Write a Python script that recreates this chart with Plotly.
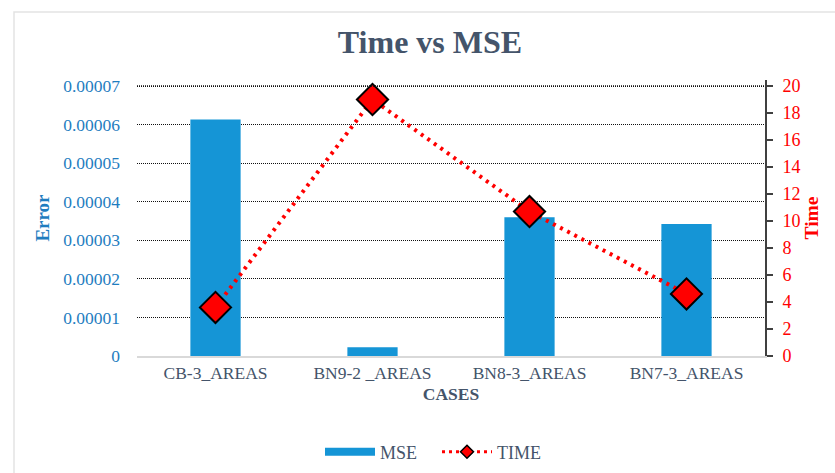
import plotly.graph_objects as go

categories = ["CB-3_AREAS", "BN9-2 _AREAS", "BN8-3_AREAS", "BN7-3_AREAS"]
mse_values = [0.0000613, 0.0000023, 0.0000360, 0.0000342]
time_values = [3.6, 19.0, 10.7, 4.6]
left_ticks = [0, 0.00001, 0.00002, 0.00003, 0.00004, 0.00005, 0.00006, 0.00007]
left_tick_labels = ["0", "0.00001", "0.00002", "0.00003", "0.00004", "0.00005", "0.00006", "0.00007"]
right_ticks = list(range(0, 21, 2))

FONT = "Liberation Serif"
SLATE = "#44546A"
BLUE = "#1F7DBF"
RED = "#FF0000"
BARC = "#1595D6"
GRID = "#111111"

fig = go.Figure()
fig.add_trace(go.Bar(
    x=categories, y=mse_values, name="MSE", showlegend=False,
    marker=dict(color=BARC, line=dict(width=0)),
    width=0.32, yaxis="y",
))
fig.add_trace(go.Scatter(
    x=categories, y=time_values, name="TIME", yaxis="y2", showlegend=False,
    mode="lines+markers",
    line=dict(color=RED, width=4, dash="3px,5px"),
    marker=dict(symbol="diamond", size=24, color=RED, line=dict(color="black", width=2)),
))
# legend-only entries
fig.add_trace(go.Scatter(
    x=[None], y=[None], name="MSE", mode="lines",
    line=dict(color=BARC, width=8), yaxis="y",
))
fig.add_trace(go.Scatter(
    x=[None], y=[None], name="TIME", mode="lines+markers", yaxis="y2",
    line=dict(color=RED, width=3, dash="3px,4px"),
    marker=dict(symbol="diamond", size=10, color=RED, line=dict(color="black", width=1.5)),
))

W, H = 835, 473
L, R, T, B = 137, 70, 80, 117
pw, ph = W - L - R, H - T - B
top_frac = ph / (356 - 86)  # plot top slightly above the top tick

fig.update_layout(
    width=W, height=H,
    margin=dict(l=L, r=R, t=T, b=B, autoexpand=False),
    paper_bgcolor="white", plot_bgcolor="white",
    font=dict(family=FONT, color=SLATE, size=17),
    title=dict(text="<b>Time vs MSE</b>", x=430 / W, xanchor="center",
               y=1 - 42 / H, yanchor="middle",
               font=dict(size=32, color=SLATE, family=FONT)),
    showlegend=True,
    legend=dict(orientation="h", x=(320 - L) / pw, xanchor="left", y=-(452 - 356) / ph, yanchor="middle",
                font=dict(size=18, color=SLATE, family=FONT), itemwidth=50, tracegroupgap=0,
                entrywidth=52, entrywidthmode="pixels"),
    xaxis=dict(
        showgrid=False, showline=True, linecolor="#D9D9D9", linewidth=1.5,
        tickfont=dict(size=17.5, color=SLATE, family=FONT),
        title=dict(text="<b>CASES</b>", font=dict(size=17.5, color=SLATE, family=FONT), standoff=6),
        ticks="",
    ),
    yaxis=dict(
        range=[0, 0.00007 * top_frac], tickvals=left_ticks, ticktext=left_tick_labels,
        showgrid=True, gridcolor=GRID, griddash="1px,1px", gridwidth=1.4,
        zeroline=False, showline=False,
        tickfont=dict(size=17.5, color=BLUE, family=FONT),
        ticklabelstandoff=16,
        title=dict(text="<b>Error</b>", font=dict(size=19, color=BLUE, family=FONT), standoff=8),
    ),
    yaxis2=dict(
        range=[0, 20 * top_frac], tickvals=right_ticks, overlaying="y", side="right",
        showgrid=False, zeroline=False,
        showline=True, linecolor="#404040", linewidth=2,
        ticks="outside", ticklen=6, tickcolor="#404040", tickwidth=1.5,
        tickfont=dict(size=18, color=RED, family=FONT),
        ticklabelstandoff=6,
        title=dict(text="<b>Time</b>", font=dict(size=19.5, color=RED, family=FONT), standoff=4),
    ),
    shapes=[
        dict(
            type="rect", xref="paper", yref="paper",
            x0=(14 - L) / pw, x1=(W + 20 - L) / pw,
            y0=-(H + 20 - T - ph) / ph, y1=1 + (T - 12) / ph,
            line=dict(color="#E3E3E3", width=1.5), fillcolor="rgba(0,0,0,0)", layer="below",
        ),
        # top grid line, drawn explicitly
        dict(
            type="line", xref="paper", yref="y", x0=0, x1=1,
            y0=left_ticks[-1], y1=left_ticks[-1],
            line=dict(color=GRID, width=1.4, dash="1px,1px"), layer="above",
        ),
    ],
)

fig.write_html("out.html")
